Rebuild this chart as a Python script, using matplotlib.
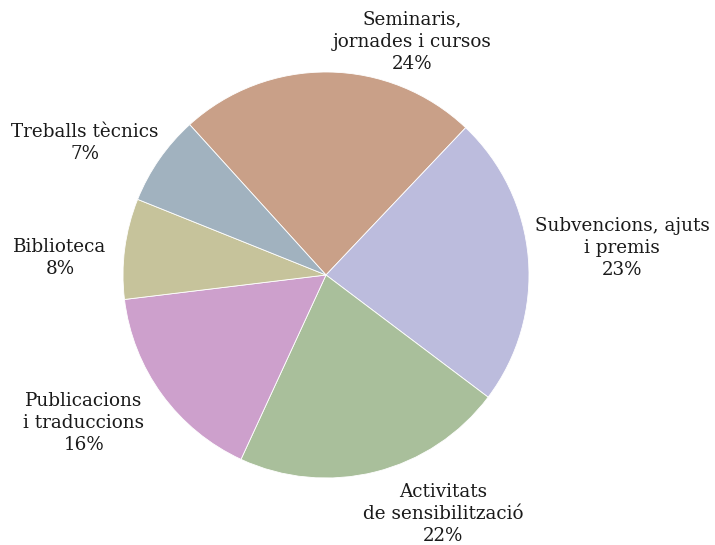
import matplotlib
matplotlib.use("Agg")
import matplotlib.pyplot as plt

categories = ["Seminaris,\njornades i cursos", "Subvencions, ajuts\ni premis",
              "Activitats\nde sensibilització", "Publicacions\ni traduccions",
              "Biblioteca", "Treballs tècnics"]
values = [23.8, 23.2, 21.6, 16.2, 8.0, 7.2]
colors = ["#c9a088", "#bcbcdd", "#a9bf9b", "#cda0cc", "#c6c39b", "#a1b2bf"]
label_pos = [(0.424, 1.148), (1.458, 0.133), (0.576, -1.177),
             (-1.192, -0.729), (-1.310, 0.084), (-1.187, 0.650)]

fig = plt.figure(figsize=(7.15, 5.45), dpi=100)
ax = fig.add_axes([0, 0, 1, 1])
ax.pie(values, colors=colors, startangle=132.2, counterclock=False, radius=1.0,
       wedgeprops=dict(edgecolor="white", linewidth=0.6))
total = sum(values)
for cat, v, (x, y) in zip(categories, values, label_pos):
    ax.text(x, y, f"{cat}\n{round(v / total * 100)}%", ha="center", va="center",
            multialignment="center", fontsize=13.2, family="DejaVu Serif",
            color="#1a1a1a", linespacing=1.3)
ax.set_xlim(-326 / 203, (715 - 326) / 203)
ax.set_ylim((275 - 545) / 203, 275 / 203)
ax.set_aspect("equal")
ax.axis("off")
fig.savefig("out.png", dpi=100)
